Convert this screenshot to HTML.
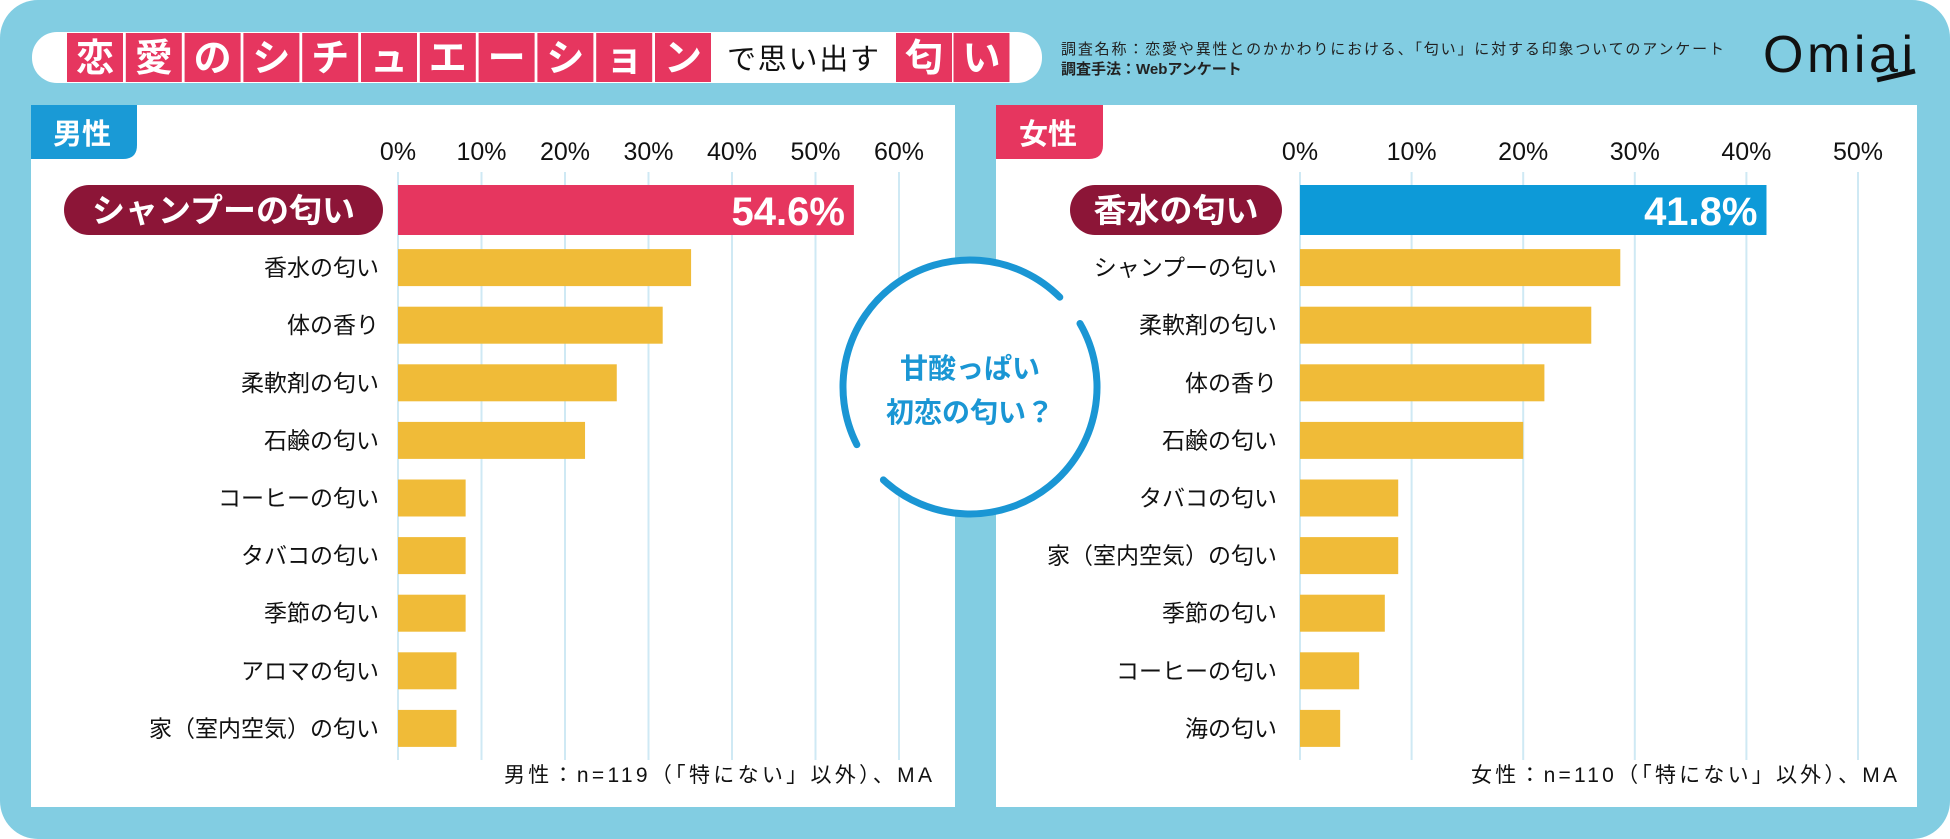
<!DOCTYPE html>
<html><head><meta charset="utf-8"><style>
html,body{margin:0;padding:0;background:#fff;}
svg{display:block;}
text{font-family:"Liberation Sans","Noto Sans CJK JP",sans-serif;}
</style></head><body>
<svg id="chart" width="1950" height="839" viewBox="0 0 1950 839" xmlns="http://www.w3.org/2000/svg">
<rect x="0" y="0" width="1950" height="839" rx="38" fill="#82cde2"/>
<g>
<rect x="32" y="32" width="1010" height="51" rx="25" fill="#fff"/>
<g id="titleBoxes"></g>
<text x="803" y="69" font-size="29" text-anchor="middle" fill="#111" textLength="152">で思い出す</text>
</g>
<text x="1061" y="54" font-size="15" fill="#222" textLength="663">調査名称：恋愛や異性とのかかわりにおける、「匂い」に対する印象ついてのアンケート</text>
<text x="1061" y="74" font-size="15" fill="#222" font-weight="bold">調査手法：Webアンケート</text>
<g>
<text x="1763" y="72" font-size="52" fill="#111" textLength="150">Omiai</text>
<line x1="1877" y1="80" x2="1915" y2="71" stroke="#111" stroke-width="5"/>
</g>
<rect x="31" y="105" width="924" height="702" fill="#fff"/>
<rect x="996" y="105" width="921" height="702" fill="#fff"/>
<path d="M31 105 H137 V145 Q137 159 123 159 H31 Z" fill="#1a9ad6"/>
<text x="82" y="144" font-size="29" font-weight="bold" fill="#fff" text-anchor="middle">男性</text>
<path d="M996 105 H1103 V145 Q1103 159 1089 159 H996 Z" fill="#e6365f"/>
<text x="1048" y="144" font-size="29" font-weight="bold" fill="#fff" text-anchor="middle">女性</text>
<g id="male"></g>
<g id="female"></g>
<text x="718" y="782" font-size="21" fill="#111" text-anchor="middle" textLength="428">男性：n=119（「特にない」以外）、MA</text>
<text x="1684" y="782" font-size="21" fill="#111" text-anchor="middle" textLength="426">女性：n=110（「特にない」以外）、MA</text>
<g id="circle">
<circle cx="970" cy="387" r="127" fill="#fff"/>
<text x="970" y="378" font-size="28" font-weight="bold" fill="#1a96d4" text-anchor="middle">甘酸っぱい</text>
<text x="970" y="422" font-size="28" font-weight="bold" fill="#1a96d4" text-anchor="middle">初恋の匂い？</text>
</g>
</svg>
<script>
const maleCategories = ["シャンプーの匂い","香水の匂い","体の香り","柔軟剤の匂い","石鹸の匂い","コーヒーの匂い","タバコの匂い","季節の匂い","アロマの匂い","家（室内空気）の匂い"];
const maleValues = [54.6,35.1,31.7,26.2,22.4,8.1,8.1,8.1,7.0,7.0];
const maleTicks = [0,10,20,30,40,50,60];
const femaleCategories = ["香水の匂い","シャンプーの匂い","柔軟剤の匂い","体の香り","石鹸の匂い","タバコの匂い","家（室内空気）の匂い","季節の匂い","コーヒーの匂い","海の匂い"];
const femaleValues = [41.8,28.7,26.1,21.9,20.0,8.8,8.8,7.6,5.3,3.6];
const femaleTicks = [0,10,20,30,40,50];
const titleChars = ["恋","愛","の","シ","チ","ュ","エ","ー","シ","ョ","ン"];
const titleTail = ["匂","い"];

const NS = "http://www.w3.org/2000/svg";
function mk(tag, attrs, parent){const e=document.createElementNS(NS,tag);for(const k in attrs)e.setAttribute(k,attrs[k]);parent.appendChild(e);return e;}

const tb=document.getElementById('titleBoxes');
function titleBox(ch,x,idx){
  const r=mk('rect',{x:x,y:33,width:56,height:49,fill:'#e6365f'},tb);
  
  
  const t=mk('text',{x:x+28,y:71,'font-size':38,'font-weight':'bold',fill:'#fff','text-anchor':'middle'},tb);
  
  
  t.textContent=ch;
}
titleChars.forEach((c,i)=>titleBox(c,67+i*58.8,i));
titleTail.forEach((c,i)=>titleBox(c,896+i*57.5,i));

function drawChart(gid,cats,vals,ticks,x0,step,labelRight,pill,topColor){
  const g=document.getElementById(gid);
  const xs=v=>x0+v*step/10;
  const yc=i=>210+57.6*i;
  ticks.forEach(t=>{
    const l=mk('line',{x1:xs(t),x2:xs(t),y1:172,y2:760,stroke:'#cfe9f4','stroke-width':2},g);
    
    
    const tx=mk('text',{x:xs(t),y:160,'font-size':25,fill:'#111','text-anchor':'middle'},g);
    
    
    tx.textContent=t+'%';
  });
  cats.forEach((c,i)=>{
    const top=i===0;
    const h=top?50:37;
    const b=mk('rect',{x:xs(0),y:yc(i)-h/2,width:xs(vals[i])-xs(0),height:h,fill:top?topColor:'#f0bb38'},g);
    
    
    if(top){
      const p=mk('rect',{x:pill[0],y:yc(i)-25,width:pill[1]-pill[0],height:50,rx:25,fill:'#8c1537'},g);
      
      
      const t=mk('text',{x:(pill[0]+pill[1])/2,y:yc(i)+12,'font-size':33,'font-weight':'bold',fill:'#fff','text-anchor':'middle'},g);
      
      
      t.textContent=c;
      const v=mk('text',{x:xs(vals[i])-9,y:yc(i)+15,'font-size':40,'font-weight':'bold',fill:'#fff','text-anchor':'end'},g);
      
      
      v.textContent=vals[i].toFixed(1)+'%';
    } else {
      const t=mk('text',{x:labelRight,y:yc(i)+8,'font-size':23,fill:'#111','text-anchor':'end'},g);
      
      
      t.textContent=c;
    }
  });
}
drawChart('male',maleCategories,maleValues,maleTicks,398,83.5,379,[64,383],'#e6365f');
drawChart('female',femaleCategories,femaleValues,femaleTicks,1300,111.6,1277,[1070,1282],'#0d9ad8');

const cg=document.getElementById('circle');
const cx=970,cy=387,R=127;
function arc(a1,a2){
  const r=a=>a*Math.PI/180;
  const p1=[cx+R*Math.cos(r(a1)),cy+R*Math.sin(r(a1))],p2=[cx+R*Math.cos(r(a2)),cy+R*Math.sin(r(a2))];
  const large=((a2-a1+360)%360)>180?1:0;
  const a=mk('path',{d:`M${p1[0]} ${p1[1]} A${R} ${R} 0 ${large} 1 ${p2[0]} ${p2[1]}`,fill:'none',stroke:'#1a96d4','stroke-width':7,'stroke-linecap':'round'},cg);
  
  
}
arc(-30,133);
arc(153,315);
</script>
</body></html>
